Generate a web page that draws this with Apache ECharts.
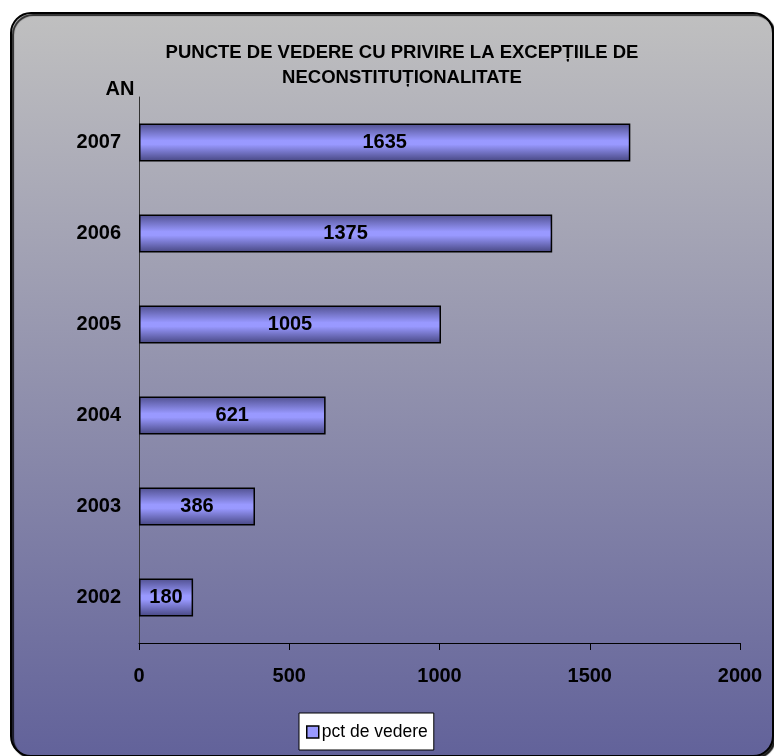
<!DOCTYPE html>
<html>
<head>
<meta charset="utf-8">
<script src="https://cdn.jsdelivr.net/npm/echarts@6/dist/echarts.min.js"></script>
<style>
html,body{margin:0;padding:0;background:#ffffff;}
#c{width:774px;height:756px;}
</style>
</head>
<body>
<div id="c"></div>
<script>
const categories = ['2002', '2003', '2004', '2005', '2006', '2007'];
const values = [180, 386, 621, 1005, 1375, 1635];
const seriesName = 'pct de vedere';
const titleText = 'PUNCTE DE VEDERE CU PRIVIRE LA EXCEPȚIILE DE\nNECONSTITUȚIONALITATE';
const axisName = 'AN';

const chart = echarts.init(document.getElementById('c'), null, {renderer: 'canvas'});
const font = 'Liberation Sans, Arial, sans-serif';
chart.setOption({
  animation: false,
  backgroundColor: '#ffffff',
  graphic: [{
    type: 'rect',
    z: -10,
    shape: {x: 11, y: 13, width: 762, height: 743, r: 20},
    style: {
      fill: new echarts.graphic.LinearGradient(0, 0, 0, 1, [
        {offset: 0, color: '#c0c0c0'},
        {offset: 1, color: '#62629a'}
      ]),
      stroke: '#000000',
      lineWidth: 2,
      shadowColor: 'rgba(0,0,0,0.8)',
      shadowOffsetX: 2,
      shadowOffsetY: 2,
      shadowBlur: 1
    },
    silent: true
  }],
  title: [{
    text: titleText,
    left: 397,
    textAlign: 'center',
    top: 35,
    textStyle: {fontFamily: font, fontSize: 18.5, fontWeight: 'bold', color: '#000', lineHeight: 25}
  }, {
    text: axisName,
    left: 115,
    textAlign: 'center',
    top: 74,
    textStyle: {fontFamily: font, fontSize: 20, fontWeight: 'bold', color: '#000'}
  }],
  legend: {
    data: [seriesName],
    left: 299,
    top: 713,
    backgroundColor: '#ffffff',
    borderColor: '#000000',
    borderWidth: 1,
    borderRadius: 0,
    padding: [10, 6, 9, 7],
    itemWidth: 12,
    itemHeight: 12,
    icon: 'rect',
    itemStyle: {color: '#9999ff', borderColor: '#000', borderWidth: 1.5},
    textStyle: {fontFamily: font, fontSize: 17.5, color: '#000', padding: [0, 0, 0, -2]}
  },
  grid: {left: 139, right: 34, top: 97, bottom: 113, containLabel: false},
  xAxis: {
    type: 'value',
    min: 0,
    max: 2000,
    interval: 500,
    axisLine: {show: true, lineStyle: {color: '#000', width: 1}},
    axisTick: {show: true, length: 7, inside: false, lineStyle: {color: '#000'}},
    splitLine: {show: false},
    axisLabel: {margin: 23, fontFamily: font, fontSize: 20, fontWeight: 'bold', color: '#000',
      formatter: function (v) { return String(v); }}
  },
  yAxis: {
    type: 'category',
    data: categories,
    axisLine: {show: true, lineStyle: {color: '#333', width: 1}},
    axisTick: {show: false},
    axisLabel: {margin: 18, fontFamily: font, fontSize: 20, fontWeight: 'bold', color: '#000'}
  },
  series: [{
    name: seriesName,
    type: 'bar',
    data: values,
    barWidth: 38,
    itemStyle: {
      color: new echarts.graphic.LinearGradient(0, 0, 0, 1, [
        {offset: 0, color: '#50508f'},
        {offset: 0.45, color: '#9999ff'},
        {offset: 0.55, color: '#9999ff'},
        {offset: 1, color: '#464680'}
      ]),
      borderColor: '#000',
      borderWidth: 1.5
    },
    label: {
      show: true,
      position: 'inside',
      fontFamily: font,
      fontSize: 20,
      fontWeight: 'bold',
      color: '#000'
    }
  }]
});
</script>
</body>
</html>
